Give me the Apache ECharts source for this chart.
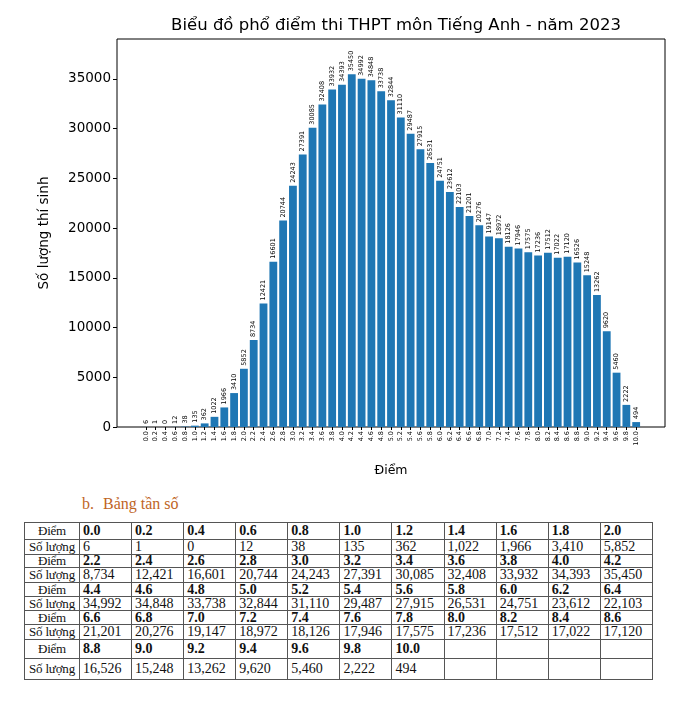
<!DOCTYPE html>
<html>
<head>
<meta charset="utf-8">
<script src="https://cdn.jsdelivr.net/npm/echarts@6/dist/echarts.min.js"></script>
<style>
  body{margin:0;background:#fff;width:700px;height:711px;position:relative;overflow:hidden}
  #chart{position:absolute;left:0;top:0;width:700px;height:490px}
  #cap{position:absolute;left:82px;top:495px;font-family:'Liberation Serif',serif;font-style:normal;font-size:16px;color:#c0651f}
  #cap span{margin-right:9px}
  table{position:absolute;left:24px;top:522px;width:629px;border-collapse:collapse;font-family:'Liberation Serif',serif;font-size:14px;color:#111;table-layout:fixed}
  td{border:1px solid #555;padding:0 3px;line-height:12px;white-space:nowrap;overflow:hidden}
  td.h{text-align:center;width:52px;padding:0 1px;font-size:13px;letter-spacing:-0.2px}
  tr.s td{font-weight:bold}
  tr.s td.h{font-weight:normal}
</style>
</head>
<body>
<div id="chart"></div>
<div id="cap"><span>b.</span>Bảng tần số</div>
<table id="tbl"></table>
<script>
var scores = [0.0,0.2,0.4,0.6,0.8,1.0,1.2,1.4,1.6,1.8,2.0,2.2,2.4,2.6,2.8,3.0,3.2,3.4,3.6,3.8,4.0,4.2,4.4,4.6,4.8,5.0,5.2,5.4,5.6,5.8,6.0,6.2,6.4,6.6,6.8,7.0,7.2,7.4,7.6,7.8,8.0,8.2,8.4,8.6,8.8,9.0,9.2,9.4,9.6,9.8,10.0]
var counts = [6,1,0,12,38,135,362,1022,1966,3410,5852,8734,12421,16601,20744,24243,27391,30085,32408,33932,34393,35450,34992,34848,33738,32844,31110,29487,27915,26531,24751,23612,22103,21201,20276,19147,18972,18126,17946,17575,17236,17512,17022,17120,16526,15248,13262,9620,5460,2222,494]
var yTicks = [0,5000,10000,15000,20000,25000,30000,35000]
var title = 'Biểu đồ phổ điểm thi THPT môn Tiếng Anh - năm 2023'
var rowHeights = [17,15,13,15,14,14,14,15,19,21]

var chart = echarts.init(document.getElementById('chart'))
var font = 'DejaVu Sans'
chart.setOption({
    backgroundColor:'#fff',
    animation:false,
    textStyle:{fontFamily:font},
    title:{text:title,left:391,top:12,textAlign:'center',textStyle:{fontSize:16.5,fontWeight:'normal',color:'#000',fontFamily:font}},
    grid:{left:117,top:39,width:548,height:388,show:true,borderColor:'#000',borderWidth:1,containLabel:false},
    xAxis:{
        type:'value',min:-0.588,max:10.588,
        name:'Điểm',nameLocation:'middle',nameGap:37,
        nameTextStyle:{fontSize:12.5,color:'#000',fontFamily:font},
        axisLine:{show:false,onZero:false},
        splitLine:{show:false},
        axisTick:{show:true,length:3,customValues:scores,lineStyle:{color:'#000'}},
        axisLabel:{customValues:scores,rotate:90,fontSize:6.5,color:'#000',margin:4,
            formatter:function(v){return (+v).toFixed(1)}}
    },
    yAxis:{
        type:'value',min:0,max:39000,
        name:'Số lượng thí sinh',nameLocation:'middle',nameGap:66,
        nameTextStyle:{fontSize:13.5,color:'#000',fontFamily:font},
        axisLine:{show:false,onZero:false},
        splitLine:{show:false},
        axisTick:{show:true,length:4,customValues:yTicks,lineStyle:{color:'#000'}},
        axisLabel:{customValues:yTicks,fontSize:13.5,color:'#000',margin:6,
            formatter:function(v){return String(v)}}
    },
    series:[{
        type:'bar',
        data:scores.map(function(s,i){return [s,counts[i]]}),
        barWidth:7.8,
        itemStyle:{color:'#1f77b4'},
        label:{show:true,position:'top',rotate:90,align:'left',verticalAlign:'middle',
            distance:3,fontSize:6.5,color:'#000',
            formatter:function(p){return p.value[1]}}
    }]
})

// frequency table below the chart
var tbl = document.getElementById('tbl')
var fmt = function(n){return n>=1000 ? n.toLocaleString('en-US') : String(n)}
for(var r=0;r<5;r++){
    var tr1 = document.createElement('tr'), tr2 = document.createElement('tr')
    tr1.className='s'
    tr1.style.height=rowHeights[r*2]+'px'
    tr2.style.height=rowHeights[r*2+1]+'px'
    tr1.innerHTML='<td class="h">Điểm</td>'
    tr2.innerHTML='<td class="h">Số lượng</td>'
    for(var c=0;c<11;c++){
        var i=r*11+c
        tr1.innerHTML+='<td>'+(i<scores.length?scores[i].toFixed(1):'')+'</td>'
        tr2.innerHTML+='<td>'+(i<counts.length?fmt(counts[i]):'')+'</td>'
    }
    tbl.appendChild(tr1)
    tbl.appendChild(tr2)
}
</script>
</body>
</html>
